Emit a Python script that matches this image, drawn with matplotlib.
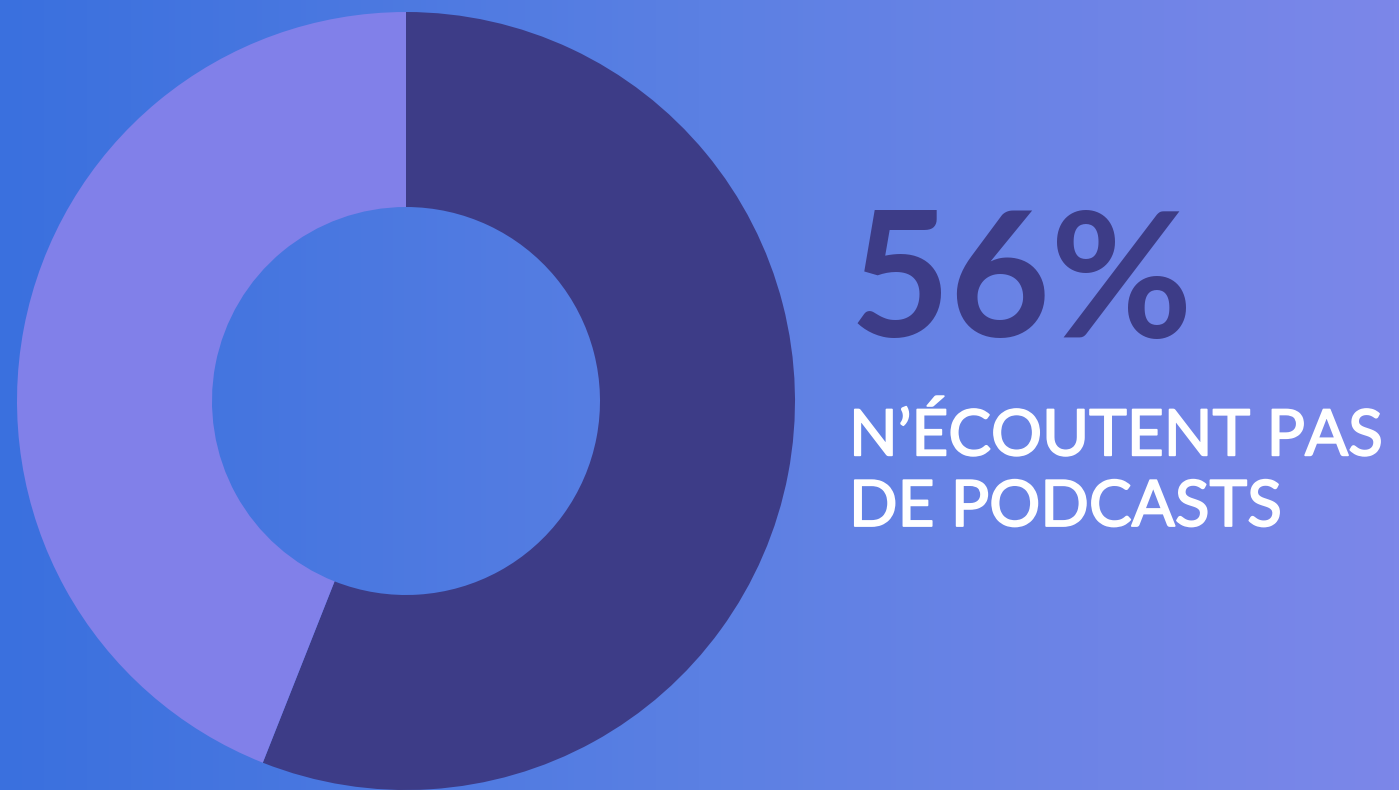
import matplotlib.pyplot as plt
import matplotlib.patheffects as pe
import numpy as np
from matplotlib.colors import LinearSegmentedColormap

# ── Data ────────────────────────────────────────────────────
labels = ["N'écoutent pas", "Écoutent"]
shares = [56, 44]
wedge_colors = ["#3d3c87", "#8180e9"]
big_label = "56%"
caption = "N\u2019ÉCOUTENT PAS\nDE PODCASTS"

W, H = 1399, 790
fig = plt.figure(figsize=(W / 100, H / 100), dpi=100)

# ── Background gradient (left to right) ─────────────────────
bg = fig.add_axes([0, 0, 1, 1])
cmap = LinearSegmentedColormap.from_list("bg", ["#3a70de", "#5b80e3", "#7c87e9"])
bg.imshow(np.linspace(0, 1, 256)[None, :], cmap=cmap, aspect="auto",
          extent=[0, W, 0, H])
bg.set_xlim(0, W)
bg.set_ylim(0, H)
bg.axis("off")

# ── Donut ───────────────────────────────────────────────────
ax = fig.add_axes([0, 0, 1, 1])
ax.set_aspect("equal")
ax.pie(shares, colors=wedge_colors, startangle=90, counterclock=False,
       center=(406, H - 401), radius=389, frame=True,
       wedgeprops=dict(width=195, linewidth=0))
ax.set_xlim(0, W)
ax.set_ylim(0, H)
ax.axis("off")

# ── Text ────────────────────────────────────────────────────
fig.text(849 / W, 1 - 337 / H, big_label, fontsize=125, fontweight="bold",
         family=["Lato", "DejaVu Sans"], color="#3d3c87", va="baseline", ha="left")
fig.text(849 / W, 1 - 526 / H, caption, fontsize=46,
         family=["Lato", "DejaVu Sans"], color="white", va="baseline", ha="left",
         linespacing=1.27,
         path_effects=[pe.withStroke(linewidth=1.3, foreground="white")])

fig.savefig("out.png", dpi=100)
